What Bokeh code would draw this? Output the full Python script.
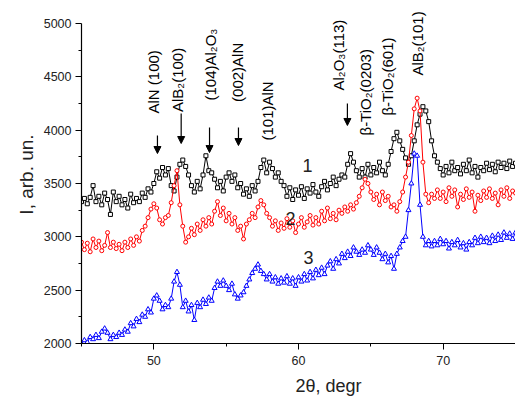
import math
import numpy as np
from bokeh.plotting import figure
from bokeh.models import Range1d, FixedTicker, Label, Arrow, NormalHead, Title
from bokeh.embed import file_html
from bokeh.resources import INLINE

# 2-theta grid (measurement step 0.2 deg)
two_theta = np.round(np.arange(45.0, 75.0001, 0.2), 1)

curve1 = [
    3330, 3360, 3310, 3370, 3480, 3330, 3380, 3300, 3410, 3350,
    3210, 3420, 3330, 3380, 3300, 3350, 3270, 3400, 3320, 3360,
    3330, 3410, 3370, 3450, 3420, 3500, 3610, 3550, 3650, 3580,
    3640, 3480, 3430, 3560, 3680, 3720, 3660, 3580, 3480, 3420,
    3520, 3450, 3580, 3760, 3620, 3600, 3540, 3460, 3520, 3430,
    3560, 3600, 3520, 3580, 3460, 3500, 3400, 3450, 3380, 3480,
    3430, 3520, 3650, 3720, 3600, 3700, 3640, 3560, 3600, 3520,
    3480, 3380, 3460, 3350, 3440, 3390, 3470, 3360, 3450, 3410,
    3490, 3420, 3380, 3470, 3520, 3440, 3500, 3560, 3480, 3540,
    3580, 3560, 3680, 3780, 3700, 3620, 3560, 3640, 3560, 3680,
    3580, 3650, 3600, 3700, 3620, 3580, 3680, 3800, 3920, 3980,
    3900, 3820, 3740, 3680, 3760, 3900, 4050, 4150, 4220, 4180,
    4080, 3900, 3760, 3700, 3640, 3580, 3660, 3600, 3700, 3620,
    3650, 3590, 3680, 3620, 3720, 3600, 3660, 3560, 3650, 3620,
    3690, 3630, 3680, 3610, 3700, 3650, 3690, 3640, 3710, 3660,
    3690,
]

curve2 = [
    2950, 2880, 2940, 2860, 2980, 2900, 2960, 2870, 2920, 3040,
    2900, 2950, 2890, 2930, 2870, 2950, 2900, 2980, 2920, 3000,
    2960, 3060, 3100, 3180, 3260, 3310, 3270, 3160, 3120, 3180,
    3200, 3320, 3480, 3620, 3300, 3100, 2950, 3000, 3080, 3020,
    3120, 3060, 3160, 3100, 3180, 3120, 3240, 3330, 3200, 3270,
    3150, 3220, 3120, 3180, 3060, 3100, 2980, 3120, 3160, 3220,
    3180, 3280, 3340, 3300, 3220, 3180, 3100, 3150, 3060, 3130,
    3080, 3170, 3090, 3150, 3040, 3120, 3180, 3090, 3140, 3200,
    3110, 3180, 3120, 3240, 3150, 3270, 3170, 3220, 3160, 3250,
    3220, 3280, 3240, 3300, 3260, 3320, 3380, 3460, 3540, 3500,
    3420, 3350, 3400, 3300, 3420, 3340, 3380, 3280, 3300, 3240,
    3330, 3420, 3560, 3700, 3950, 4200, 4300, 4180, 3700, 3400,
    3320, 3400, 3360, 3440, 3360, 3420, 3330, 3460, 3380, 3440,
    3280, 3400, 3350, 3450, 3370, 3420, 3240, 3390, 3340, 3430,
    3370, 3450, 3360, 3410, 3300, 3440, 3380, 3460, 3360, 3430,
    3410,
]

curve3 = [
    2000, 2030, 2010, 2060, 2040, 2080, 2050, 2110, 2140, 2100,
    2040, 2080, 2060, 2100, 2080, 2130, 2110, 2190, 2160, 2230,
    2200, 2270, 2250, 2320, 2290, 2420, 2450, 2400, 2320, 2360,
    2340, 2420, 2580, 2670, 2550, 2340, 2400, 2300, 2360, 2220,
    2380, 2340, 2410, 2370, 2430, 2400, 2520, 2580, 2540, 2590,
    2540, 2500, 2560, 2460, 2420, 2450, 2480, 2540, 2600, 2660,
    2700, 2740, 2680, 2650, 2600, 2650, 2580, 2620, 2560, 2610,
    2570, 2630, 2560, 2610, 2540, 2620, 2580, 2650, 2590, 2670,
    2610, 2690, 2640, 2710, 2650, 2730, 2770, 2700, 2790, 2750,
    2840, 2800, 2860, 2820, 2900, 2860, 2830, 2880, 2850, 2920,
    2880, 2830, 2900, 2850, 2790, 2840, 2760, 2820, 2700, 2840,
    2900, 2960, 3000, 3250, 3500, 3780, 3760, 3300, 3000, 2920,
    2960, 2910, 2960, 2920, 2980, 2930, 2960, 2890, 2950, 2920,
    2970, 2900, 2940, 2880, 2950, 2920, 2990, 2940, 3000, 2950,
    2990, 2940, 3010, 2960, 3020, 2970, 3040, 2990, 3030, 2980,
    3040,
]

x_ticks = [50, 60, 70]
x_minor = [45, 55, 65, 75]
y_ticks = [2000, 2500, 3000, 3500, 4000, 4500, 5000]
y_minor = [2250, 2750, 3250, 3750, 4250, 4750]

# peak annotations: text, x, bottom y
peak_texts = ["AlN (100)", "AlB\u2082(100)", "(104)Al\u2082O\u2083", "(002)AlN", "(101)AlN",
              "Al\u2082O\u2083(113)", "\u03b2-TiO\u2082(0203)", "\u03b2-TiO\u2082(601)", "AlB\u2082(101)"]
peak_text_x = [50.0, 51.63, 53.9, 55.78, 57.85, 62.76, 64.66, 66.15, 68.22]
peak_text_y = [4156, 4170, 4278, 4265, 3903, 4372, 3950, 4137, 4512]

# arrows: x, y start, y end
arrow_x = [50.25, 51.89, 53.85, 55.85, 63.38]
arrow_y0 = [3950, 4156, 4025, 4025, 4250]
arrow_y1 = [3781, 3875, 3790, 3856, 4044]

curve_names = ["1", "2", "3"]
curve_name_x = [60.62, 59.44, 60.69]
curve_name_y = [3669, 3172, 2806]

FONT = "Liberation Sans"

p = figure(width=515, height=408, x_range=Range1d(45, 75), y_range=Range1d(2000, 5168.75),
           output_backend="svg", toolbar_location=None,
           min_border_left=81, min_border_right=0, min_border_top=5, min_border_bottom=65)
p.outline_line_color = None
p.xgrid.visible = False
p.ygrid.visible = False

for ax in (p.xaxis[0], p.yaxis[0]):
    ax.axis_line_color = "black"
    ax.axis_line_width = 1.2
    ax.major_tick_line_color = "black"
    ax.minor_tick_line_color = "black"
    ax.major_tick_in = 0
    ax.minor_tick_in = 0
    ax.major_tick_out = 6
    ax.minor_tick_out = 3
    ax.major_label_text_font = FONT
    ax.major_label_text_font_size = "12.5px"
    ax.major_label_text_color = "#222222"

p.yaxis.bounds = (2000, 5000)
p.xaxis.ticker = FixedTicker(ticks=x_ticks, minor_ticks=x_minor)
p.yaxis.ticker = FixedTicker(ticks=y_ticks, minor_ticks=y_minor)
p.xaxis.major_label_standoff = 6
p.yaxis.major_label_standoff = 4

series = [(curve1, "black", "square", 4), (curve2, "red", "circle", 4), (curve3, "blue", "triangle", 5)]
for ys, col, mk, sz in series:
    p.line(two_theta, ys, line_color=col, line_width=1)
    p.scatter(two_theta, ys, marker=mk, size=sz, line_color=col, fill_color="white", line_width=1)

for t, x, y in zip(peak_texts, peak_text_x, peak_text_y):
    p.add_layout(Label(x=x, y=y, text=t, angle=math.pi / 2, text_align="left", text_baseline="middle",
                       text_font=FONT, text_font_size="15px", text_color="black"))

for x, y0, y1 in zip(arrow_x, arrow_y0, arrow_y1):
    p.add_layout(Arrow(end=NormalHead(size=7, fill_color="black", line_color="black", line_width=1),
                       x_start=x, y_start=y0, x_end=x, y_end=y1, line_color="black", line_width=1.2))

for t, x, y in zip(curve_names, curve_name_x, curve_name_y):
    p.add_layout(Label(x=x, y=y, text=t, text_align="center", text_baseline="middle",
                       text_font=FONT, text_font_size="18px", text_color="#222222"))

# axis titles
p.add_layout(Title(text="I, arb. un.", align="center", offset=6, standoff=8,
                   text_font=FONT, text_font_size="19px", text_font_style="normal",
                   text_color="#222222"), "left")
p.add_layout(Title(text="2\u03b8, degr", align="left", offset=214, standoff=16,
                   vertical_align="top",
                   text_font=FONT, text_font_size="18px", text_font_style="normal",
                   text_color="#222222"), "below")

open("out.html", "w").write(file_html(p, INLINE))
